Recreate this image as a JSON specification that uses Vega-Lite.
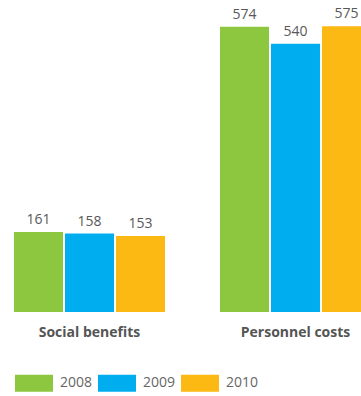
{
  "$schema": "https://vega.github.io/schema/vega-lite/v6.json",
  "width": 361,
  "height": 312,
  "autosize": {"type": "none"},
  "padding": {"left": 0, "top": 0, "right": 0, "bottom": 84},
  "background": "white",
  "config": {
    "view": {"stroke": null},
    "font": "Open Sans"
  },
  "data": {
    "values": [
      {"category": "Social benefits", "year": "2008", "value": 161},
      {"category": "Social benefits", "year": "2009", "value": 158},
      {"category": "Social benefits", "year": "2010", "value": 153},
      {"category": "Personnel costs", "year": "2008", "value": 574},
      {"category": "Personnel costs", "year": "2009", "value": 540},
      {"category": "Personnel costs", "year": "2010", "value": 575}
    ]
  },
  "encoding": {
    "x": {
      "field": "category",
      "type": "nominal",
      "sort": ["Social benefits", "Personnel costs"],
      "scale": {"range": [0, 385], "paddingInner": 0.267, "paddingOuter": 0.068},
      "axis": {
        "title": null,
        "domain": false,
        "ticks": false,
        "labelAngle": 0,
        "labelPadding": 13,
        "labelFontSize": 14,
        "labelFontWeight": "bold",
        "labelColor": "#555555",
        "labelFont": "Open Sans"
      }
    },
    "xOffset": {
      "field": "year",
      "type": "nominal",
      "scale": {"paddingInner": 0.0392, "paddingOuter": 0}
    },
    "y": {
      "field": "value",
      "type": "quantitative",
      "scale": {"domain": [0, 628], "nice": false},
      "axis": null
    }
  },
  "layer": [
    {
      "mark": {"type": "bar", "clip": true},
      "encoding": {
        "color": {
          "field": "year",
          "type": "nominal",
          "scale": {"domain": ["2008", "2009", "2010"], "range": ["#8dc63f", "#00aeef", "#fdb913"]},
          "legend": {
            "title": null,
            "orient": "none",
            "direction": "horizontal",
            "legendX": 15,
            "legendY": 364,
            "symbolType": "M-1,-0.447L1,-0.447L1,0.447L-1,0.447Z",
            "symbolSize": 1444,
            "symbolStrokeWidth": 0,
            "symbolOpacity": 1,
            "labelFontSize": 14,
            "labelColor": "#666666",
            "labelFont": "Open Sans",
            "labelOffset": 7,
            "columnPadding": 5
          }
        }
      }
    },
    {
      "mark": {"type": "text", "baseline": "bottom", "dy": -5, "fontSize": 14, "color": "#595959", "font": "Open Sans"},
      "encoding": {
        "text": {"field": "value", "type": "quantitative"}
      }
    }
  ]
}
